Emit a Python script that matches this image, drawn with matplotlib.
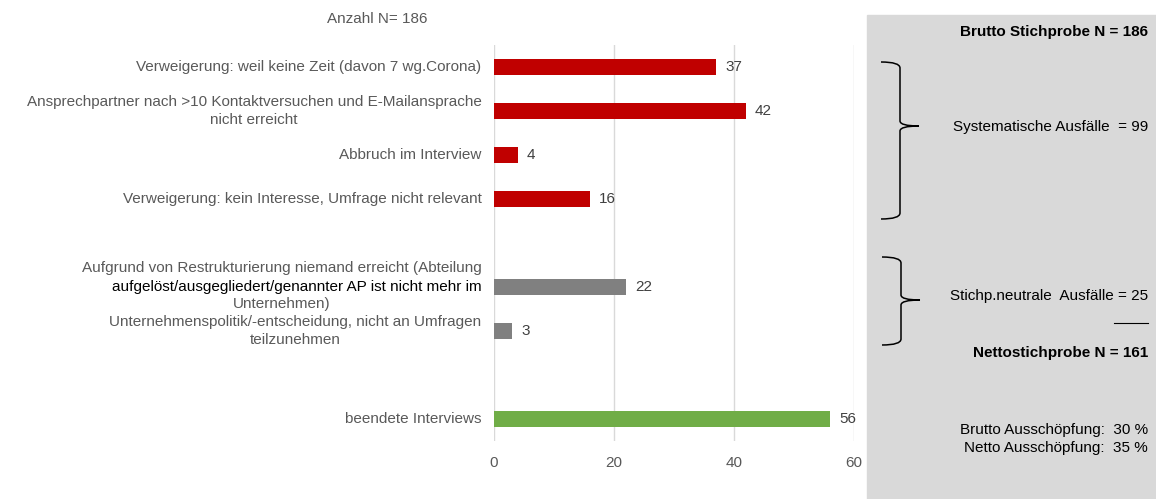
"""
Ausfallgründe der Stichprobe als horizontales Balkendiagramm
mit Zusammenfassung rechts im grauen Kasten
"""

import matplotlib
matplotlib.use("Agg")
import matplotlib.pyplot as plt
from matplotlib.path import Path
from matplotlib.patches import PathPatch, Rectangle

plt.rcParams['font.family'] = ['Liberation Sans', 'DejaVu Sans']

# data (leere Einträge = Abstandszeilen)
labels = [
    "Verweigerung: weil keine Zeit (davon 7 wg.Corona)",
    "Ansprechpartner nach >10 Kontaktversuchen und E-Mailansprache\nnicht erreicht",
    "Abbruch im Interview",
    "Verweigerung: kein Interesse, Umfrage nicht relevant",
    "",
    None,  # dreizeilig, wird unten einzeln gesetzt
    "Unternehmenspolitik/-entscheidung, nicht an Umfragen\nteilzunehmen",
    "",
    "beendete Interviews",
]
values = [37, 42, 4, 16, None, 22, 3, None, 56]
groups = ["sys", "sys", "sys", "sys", None, "neutral", "neutral", None, "done"]
restr_lines = [
    "Aufgrund von Restrukturierung niemand erreicht (Abteilung",
    "aufgelöst/ausgegliedert/genannter AP ist nicht mehr im",
    "Unternehmen)",
]
restr_row = 5
x_ticks = [0, 20, 40, 60]

summary_title = "Brutto Stichprobe N = 186"
summary_sys = "Systematische Ausfälle  = 99"
summary_neutral = "Stichp.neutrale  Ausfälle = 25"
summary_net = "Nettostichprobe N = 161"
summary_rates = "Brutto Ausschöpfung:  30 %\nNetto Ausschöpfung:  35 %"

group_colors = {"sys": "#c00000", "neutral": "#808080", "done": "#70ad47"}
label_color = "#595959"
value_color = "#404040"
fs = 11

W, H = 1156, 499
fig = plt.figure(figsize=(W / 100, H / 100), dpi=100)

# overlay in pixel coordinates for panel and braces
bg = fig.add_axes([0, 0, 1, 1], zorder=0)
bg.set_xlim(0, W)
bg.set_ylim(H, 0)
bg.axis('off')

ax = fig.add_axes([494 / W, 1 - 441 / H, 360 / W, 396 / H], zorder=1)
ax.patch.set_alpha(0)

# bars
for i, (v, g) in enumerate(zip(values, groups)):
    if v is None:
        continue
    ax.barh(i, v, height=0.36, color=group_colors[g], zorder=2)
    ax.text(v + 1.5, i, str(v), va='center', ha='left', fontsize=fs, color=value_color)

ax.set_ylim(len(labels) - 0.5, -0.5)
ax.set_xlim(0, 60)
ax.set_xticks(x_ticks)
ax.set_yticks([])
ax.tick_params(axis='x', length=0, labelsize=fs, labelcolor=label_color, pad=11)
ax.grid(axis='x', color='#d9d9d9', linewidth=1, zorder=0)
for s in ax.spines.values():
    s.set_visible(False)

# category labels
ytrans = ax.get_yaxis_transform()
lx = -0.035
for i, lab in enumerate(labels):
    if not lab:
        continue
    ax.text(lx, i, lab, transform=ytrans, ha='right', va='center',
            multialignment='center', fontsize=fs, color=label_color, linespacing=1.4)

# Restrukturierung: mittlere Zeile schwarz
t1 = ax.text(lx, restr_row - 0.43, restr_lines[0], transform=ytrans, ha='right', va='center',
             fontsize=fs, color=label_color)
ax.text(lx, restr_row, restr_lines[1], transform=ytrans, ha='right', va='center',
        fontsize=fs, color='black')
renderer = fig.canvas.get_renderer()
bb = t1.get_window_extent(renderer)
cx = ax.transAxes.inverted().transform(((bb.x0 + bb.x1) / 2, 0))[0]
ax.text(cx, restr_row + 0.39, restr_lines[2], transform=ytrans, ha='center', va='center',
        fontsize=fs, color=label_color)

fig.text(377 / W, 1 - 19 / H, "Anzahl N= 186", ha='center', va='center',
         fontsize=fs, color=label_color)

# grey summary panel
bg.add_patch(Rectangle((867, 15), W - 867, H - 15, color='#d9d9d9', zorder=0))


def brace(x0, x1, xtip, ytop, ymid, ybot):
    verts = [
        (x0, ytop), (x1, ytop), (x1, ytop + 6),
        (x1, ymid - 5), (x1, ymid), (xtip, ymid),
        (x1, ymid), (x1, ymid + 5),
        (x1, ybot - 6), (x1, ybot), (x0, ybot),
    ]
    codes = [Path.MOVETO, Path.CURVE3, Path.CURVE3,
             Path.LINETO, Path.CURVE3, Path.CURVE3,
             Path.CURVE3, Path.CURVE3,
             Path.LINETO, Path.CURVE3, Path.CURVE3]
    bg.add_patch(PathPatch(Path(verts, codes), fill=False, lw=1.1, edgecolor='black', zorder=2))


brace(881, 900, 919, 62, 126, 219)
brace(882, 901, 920, 257, 300, 345)

tx = 1148
bg.text(tx, 32, summary_title, ha='right', va='center', fontsize=fs, fontweight='bold')
bg.text(tx, 127, summary_sys, ha='right', va='center', fontsize=fs)
bg.text(tx, 296, summary_neutral, ha='right', va='center', fontsize=fs)
bg.plot([1114, 1148], [323, 323], color='black', lw=0.8)
bg.text(tx, 353, summary_net, ha='right', va='center', fontsize=fs, fontweight='bold')
bg.text(tx, 439, summary_rates, ha='right', va='center', multialignment='right',
        fontsize=fs, linespacing=1.3)

fig.savefig("out.png", dpi=100)
